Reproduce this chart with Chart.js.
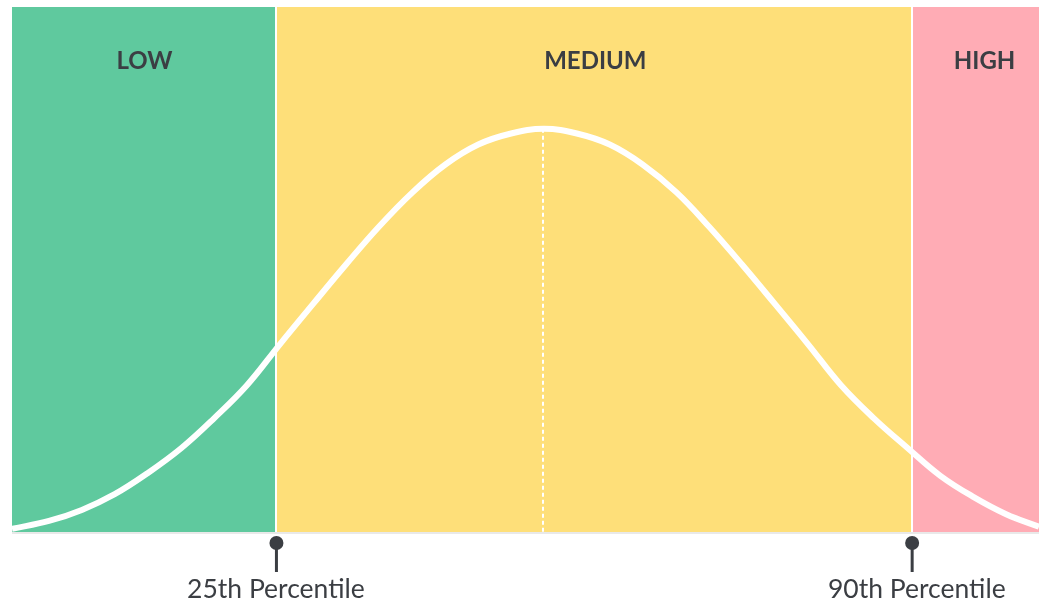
<!DOCTYPE html>
<html>
<head>
<meta charset="utf-8">
<script src="https://cdn.jsdelivr.net/npm/chart.js@4"></script>
<style>
    html, body { margin: 0; padding: 0; background: #fff; }
    .chart { position: relative; width: 1039px; height: 603px; }
</style>
</head>
<body>
<div class="chart"><canvas id="bellChart"></canvas></div>
<script>
// curve (x: 0..100 across the plot, y: 0..100 up)
const curveX = [0, 3.6, 6.8, 10, 13.2, 16.5, 19.7, 22.9, 26.1, 29.3, 32.5, 35.7, 39, 42.2, 45.4, 48.6, 51.8,
    55, 58.2, 61.4, 64.7, 67.9, 71.1, 74.3, 77.5, 80.7, 83.9, 87.2, 90.4, 93.6, 96.8, 100];
const curveY = [0.6, 2.1, 4.2, 7.2, 11.2, 16, 21.7, 28, 35.8, 43.4, 50.9, 58.1, 64.7, 70, 73.8, 75.9, 76.8,
    75.9, 73.8, 70, 64.7, 58.1, 50.9, 43.4, 35.8, 28, 21.7, 16, 10.7, 6.7, 3.4, 1];

const bandNames = ['LOW', 'MEDIUM', 'HIGH'];
const bandFrom = [0, 25.7, 87.6];
const bandTo = [25.7, 87.6, 100];
const bandLabelX = [12.9, 56.8, 94.7];
const bandColors = ['#5fc99e', '#fedf79', '#ffacb5'];

const markerX = [25.7, 87.6];
const markerLabelX = [25.7, 88.1];
const markerLabels = ['25th Percentile', '90th Percentile'];

const peakX = 51.7;
const peakY = 76.8;

const textColor = '#3b3e43';

const bandsPlugin = {
    id: 'bands',
    beforeDatasetsDraw(chart) {
        const { ctx, chartArea: area, scales: { x, y } } = chart;
        ctx.save();
        bandNames.forEach((name, i) => {
            const x0 = x.getPixelForValue(bandFrom[i]);
            const x1 = x.getPixelForValue(bandTo[i]);
            ctx.fillStyle = bandColors[i];
            ctx.fillRect(x0, area.top, x1 - x0, area.bottom - area.top);
        });
        // white separators between bands
        ctx.strokeStyle = '#ffffff';
        ctx.lineWidth = 2;
        bandFrom.slice(1).forEach(v => {
            const px = Math.round(x.getPixelForValue(v));
            ctx.beginPath();
            ctx.moveTo(px, area.top);
            ctx.lineTo(px, area.bottom);
            ctx.stroke();
        });
        // dotted line under the peak
        const pxPeak = Math.round(x.getPixelForValue(peakX));
        ctx.setLineDash([4, 3]);
        ctx.beginPath();
        ctx.moveTo(pxPeak, y.getPixelForValue(peakY));
        ctx.lineTo(pxPeak, area.bottom);
        ctx.stroke();
        ctx.setLineDash([]);

        // band names
        ctx.fillStyle = textColor;
        ctx.font = 'bold 24px Lato';
        ctx.textAlign = 'center';
        ctx.textBaseline = 'alphabetic';
        bandNames.forEach((name, i) => {
            ctx.fillText(name, x.getPixelForValue(bandLabelX[i]), 69);
        });
        ctx.restore();
    },
    afterDraw(chart) {
        const { ctx, chartArea: area, scales: { x } } = chart;
        ctx.save();
        // base line
        ctx.strokeStyle = '#e9e9e9';
        ctx.lineWidth = 2;
        ctx.beginPath();
        ctx.moveTo(area.left, area.bottom + 1);
        ctx.lineTo(area.right, area.bottom + 1);
        ctx.stroke();

        // percentile pins
        markerX.forEach((v, i) => {
            const px = x.getPixelForValue(v) + 0.5;
            ctx.strokeStyle = textColor;
            ctx.lineWidth = 3;
            ctx.beginPath();
            ctx.moveTo(px, area.bottom + 11);
            ctx.lineTo(px, area.bottom + 40);
            ctx.stroke();
            ctx.fillStyle = textColor;
            ctx.beginPath();
            ctx.arc(px, area.bottom + 11, 7, 0, Math.PI * 2);
            ctx.fill();
            ctx.font = '26.5px Lato';
            ctx.textAlign = 'center';
            ctx.fillText(markerLabels[i], x.getPixelForValue(markerLabelX[i]), area.bottom + 66);
        });
        ctx.restore();
    }
};

const ctxBell = document.getElementById('bellChart').getContext('2d');

const bellChart = new Chart(ctxBell, {
    type: 'line',
    data: {
        datasets: [{
            data: curveX.map((v, i) => ({ x: v, y: curveY[i] })),
            borderColor: '#ffffff',
            borderWidth: 6,
            pointRadius: 0,
            tension: 0.4,
            fill: false,
            clip: 0,
        }]
    },
    options: {
        responsive: true,
        maintainAspectRatio: false,
        animation: false,
        layout: {
            padding: { left: 12, top: 7, right: 0, bottom: 71 }
        },
        plugins: {
            legend: { display: false },
            tooltip: { enabled: false },
        },
        scales: {
            x: { type: 'linear', min: 0, max: 100, display: false },
            y: { min: 0, max: 100, display: false },
        }
    },
    plugins: [bandsPlugin]
});
</script>
</body>
</html>
